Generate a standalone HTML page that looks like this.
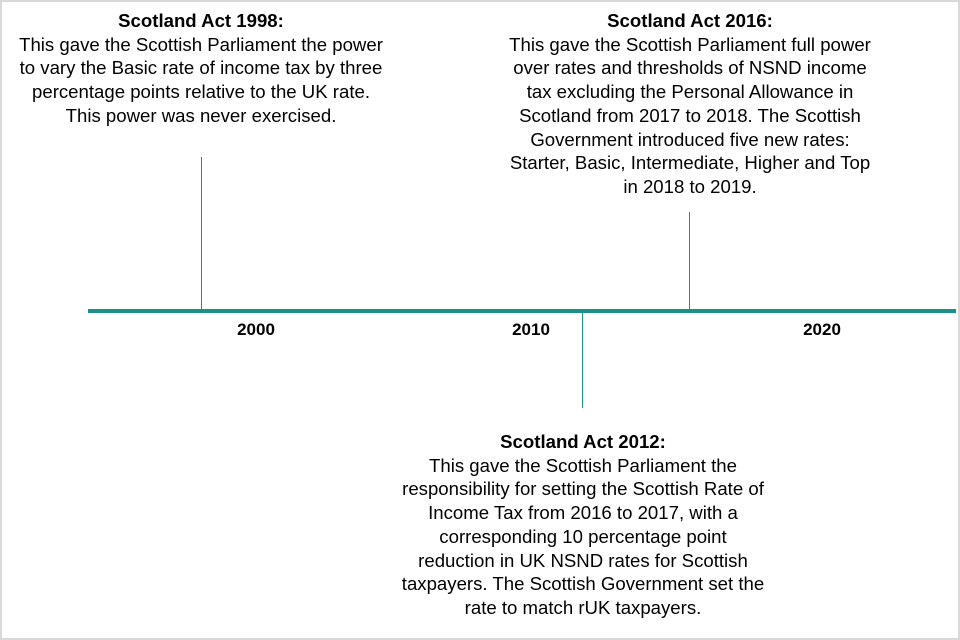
<!DOCTYPE html>
<html><head><style>
html,body{margin:0;padding:0;}
body{width:960px;height:640px;position:relative;background:#fff;font-family:"Liberation Sans",Arial,sans-serif;overflow:hidden;}
.frame{position:absolute;left:0;top:0;width:956px;height:636px;border:2px solid #d9d9d9;}
.t{position:absolute;text-align:center;font-size:18.6px;line-height:23.7px;color:#000;white-space:nowrap;transform:translateX(-50%);}
.t b{font-weight:bold;}
.v{position:absolute;width:1px;background:#1a9088;}
.yr{position:absolute;font-weight:bold;font-size:17px;transform:translateX(-50%);}
</style></head><body>
<div class="frame"></div>
<div style="position:absolute;left:88px;top:309px;width:868px;height:4px;background:#1a9088;"></div>
<div class="v" style="left:201px;top:157px;height:153px;"></div>
<div class="v" style="left:689px;top:212px;height:98px;"></div>
<div class="v" style="left:582px;top:311px;height:97px;"></div>
<div class="yr" style="left:256px;top:320px;">2000</div>
<div class="yr" style="left:531px;top:320px;">2010</div>
<div class="yr" style="left:822px;top:320px;">2020</div>
<div class="t" style="left:201px;top:9px;"><b>Scotland Act 1998:</b><br>This gave the Scottish Parliament the power<br>to vary the Basic rate of income tax by three<br>percentage points relative to the UK rate.<br>This power was never exercised.</div>
<div class="t" style="left:690px;top:9px;"><b>Scotland Act 2016:</b><br>This gave the Scottish Parliament full power<br>over rates and thresholds of NSND income<br>tax excluding the Personal Allowance in<br>Scotland from 2017 to 2018. The Scottish<br>Government introduced five new rates:<br>Starter, Basic, Intermediate, Higher and Top<br>in 2018 to 2019.</div>
<div class="t" style="left:583px;top:430px;"><b>Scotland Act 2012:</b><br>This gave the Scottish Parliament the<br>responsibility for setting the Scottish Rate of<br>Income Tax from 2016 to 2017, with a<br>corresponding 10 percentage point<br>reduction in UK NSND rates for Scottish<br>taxpayers. The Scottish Government set the<br>rate to match rUK taxpayers.</div>
</body></html>
